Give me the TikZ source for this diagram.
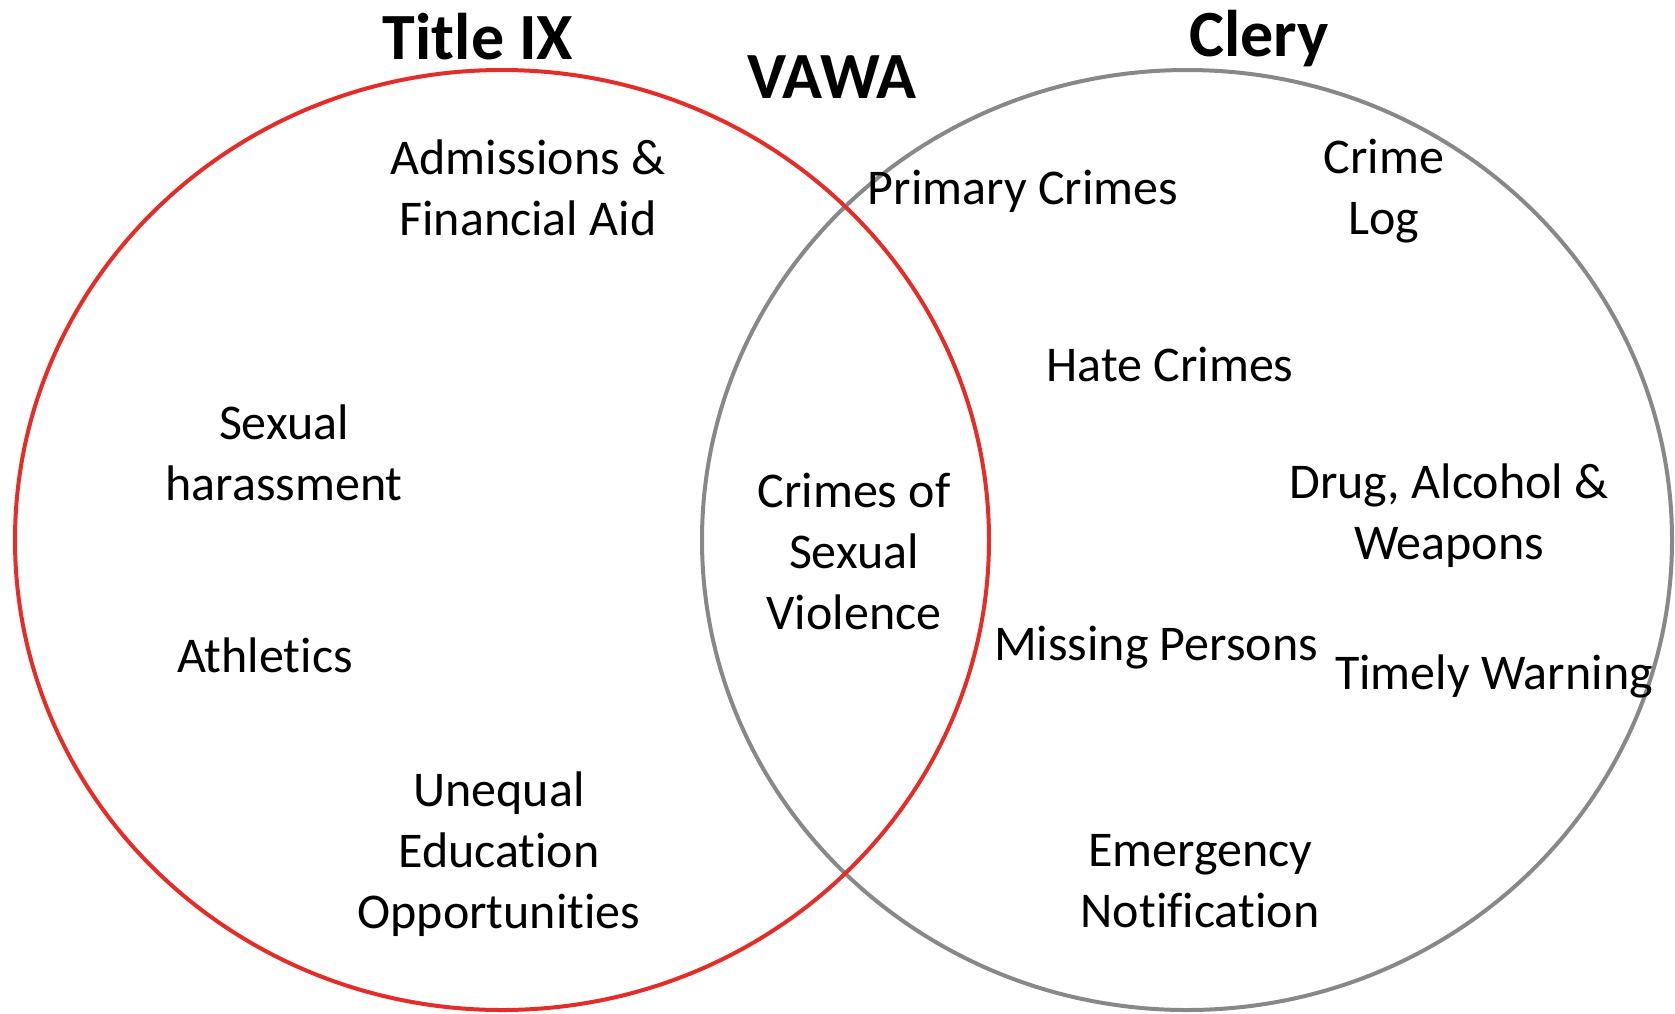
\documentclass[tikz,border=0pt]{standalone}
\usepackage{fontspec}
\setmainfont{Carlito}[Ligatures={NoCommon,NoRare,NoContextual}]
\definecolor{ixred}{RGB}{226,45,40}
\definecolor{clerygray}{RGB}{136,136,136}
\begin{document}
\begin{tikzpicture}[x=1pt, y=-1pt, line width=4pt, font=\fontsize{50}{61}\selectfont, item/.style = {align=center, inner sep=0pt}, head/.style = {font=\fontsize{66}{80}\selectfont\bfseries, inner sep=0pt}]
                \useasboundingbox (0,0) rectangle (1675,1013);
                \draw[clerygray] (1187,540) ellipse [x radius=485pt, y radius=470pt];
                \draw[ixred] (502,540) ellipse [x radius=487pt, y radius=470pt];
                \node[head] (titleix) at (478,37) {Title IX};
                \node[head] (vawa) at (832,77) {VAWA};
                \node[head] (clery) at (1259,39) {Clery};
                \node[item] (admissions) at (528,188) {Admissions \&\\Financial Aid};
                \node[item] (harassment) at (284,453) {Sexual\\harassment};
                \node[item] (athletics) at (265,655) {Athletics};
                \node[item] (unequal) at (499,854) {Unequal\\Education\\Opportunities};
                \node[item] (violence) at (854,551) {Crimes of\\Sexual\\Violence};
                \node[item] (primary) at (1023,191) {Primary Crimes};
                \node[item] (crimelog) at (1384,191) {Crime\\Log};
                \node[item] (hate) at (1170,364) {Hate Crimes};
                \node[item] (drug) at (1449,516) {Drug, Alcohol \&\\Weapons};
                \node[item] (missing) at (1156,648) {Missing Persons};
                \node[item] (warning) at (1494,676) {Timely Warning};
                \node[item] (emergency) at (1200,881) {Emergency\\Notification};
            \end{tikzpicture}
\end{document}
